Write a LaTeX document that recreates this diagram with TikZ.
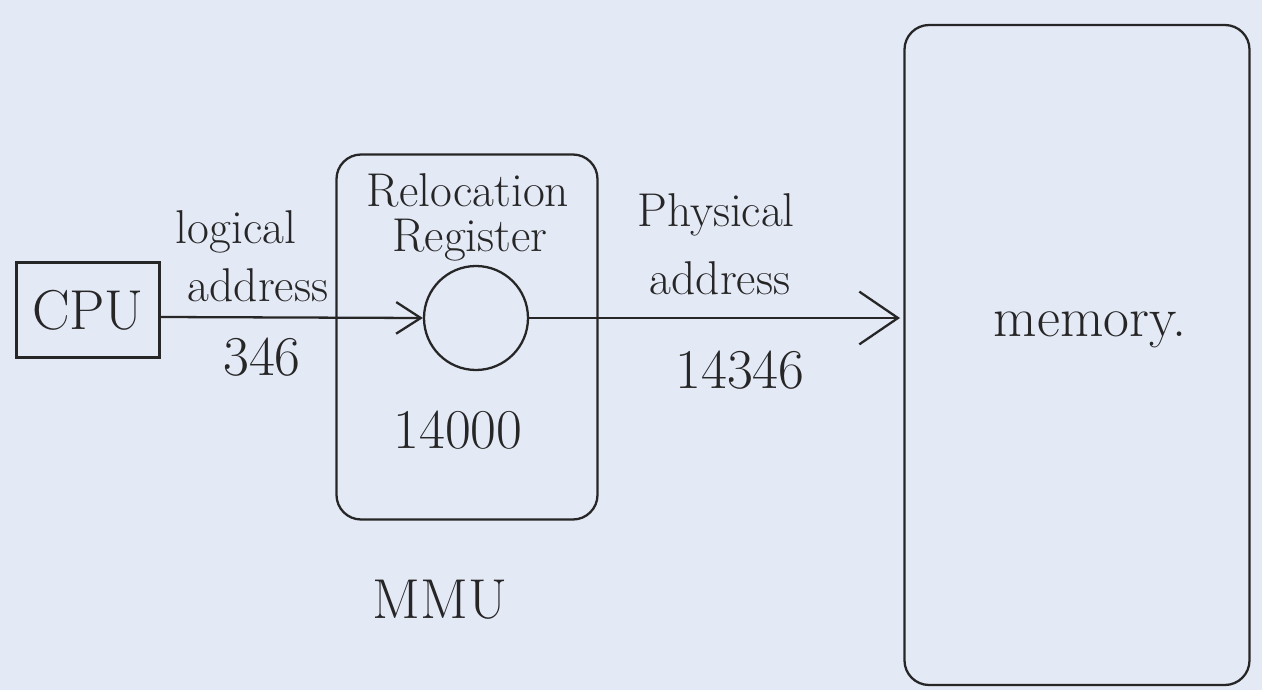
\documentclass[tikz,border=0pt]{standalone}
\usetikzlibrary{arrows.meta}
\definecolor{paper}{RGB}{228,233,246}
\begin{document}
\begin{tikzpicture}[x=0.02cm,y=-0.02cm,
  ink/.style={draw=black!85, line width=1.3pt},
  lbl/.style={font=\fontsize{27}{29}\selectfont, inner sep=0pt, text=black!85},
  big/.style={font=\fontsize{32}{34}\selectfont, inner sep=0pt, text=black!85},
  tip/.style={-{Straight Barb[length=14pt,width=18pt,line width=1.3pt]}},
  bigtip/.style={-{Straight Barb[length=22pt,width=30pt,line width=1.3pt]}}]
\fill[paper] (0,0) rectangle (1262,690);
\useasboundingbox (0,0) rectangle (1262,690);
% CPU
\node[ink, minimum width=143*0.02cm, minimum height=95*0.02cm, big, inner sep=0pt] (cpu) at (88,310) {CPU};
% MMU box
\node[ink, rounded corners=14pt, minimum width=261*0.02cm, minimum height=365*0.02cm] (mmu) at (467,337) {};
\node[lbl] (rel) at (468,190) {Relocation};
\node[lbl] (reg) at (470,240) {Register};
\node[ink, circle, minimum size=104*0.02cm] (add) at (476,318) {};
\node[big] (base) at (458,430) {14000};
\node[big] (mmulbl) at (440,600) {MMU};
% memory
\node[ink, rounded corners=14pt, minimum width=345*0.02cm, minimum height=660*0.02cm] (mem) at (1077,355) {};
\node[big] (memlbl) at (1090,330) {memory.};
% arrows
\draw[ink, tip] (cpu.east |- 0,317) -- (add.west);
\coordinate (phys) at (900,318);
\draw[ink, bigtip] (add.east) -- (phys);
% labels
\node[lbl] (log) at (236,232) {logical};
\node[lbl] (la) at (258,285) {address};
\node[big] (n346) at (262,357) {346};
\node[lbl] (ph) at (716,215) {Physical};
\node[lbl] (pa) at (720,278) {address};
\node[big] (n14346) at (740,370) {14346};
\end{tikzpicture}
\end{document}
